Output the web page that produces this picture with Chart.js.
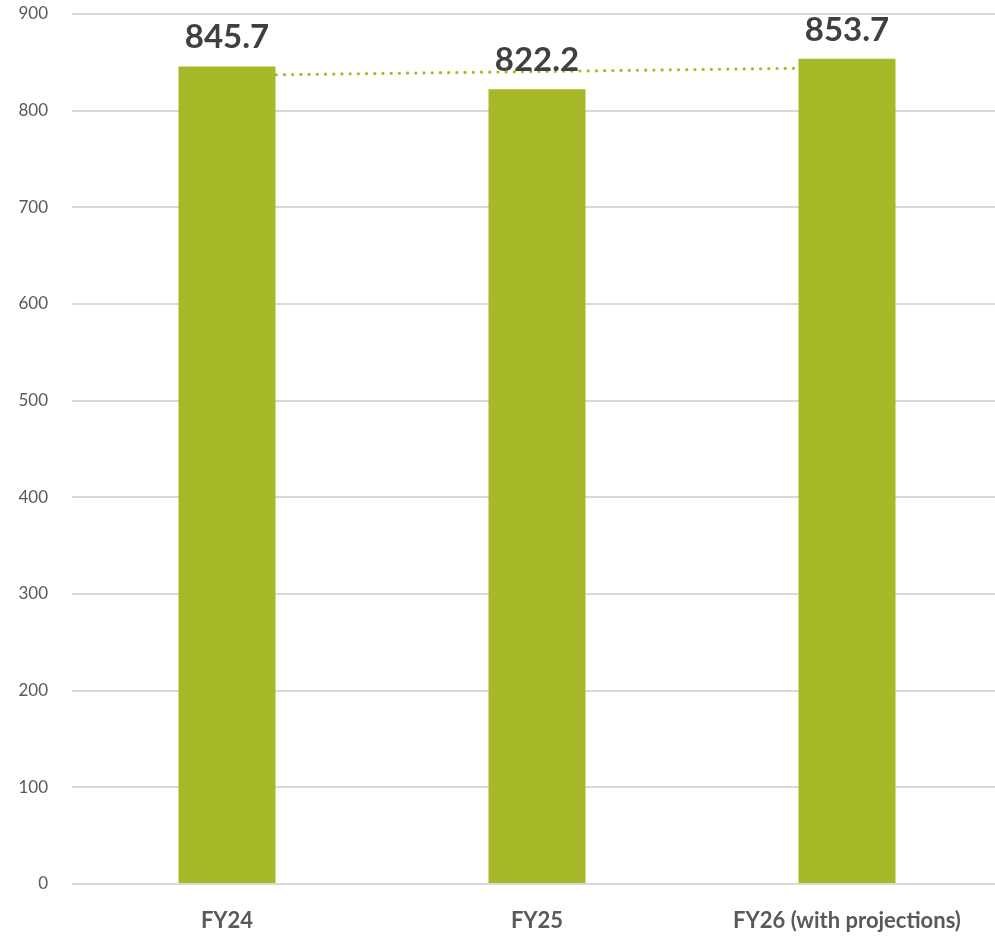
<!DOCTYPE html>
<html>
<head>
<meta charset="utf-8">
<script src="https://cdn.jsdelivr.net/npm/chart.js@4.4.1/dist/chart.umd.min.js"></script>
<style>
  html, body { margin: 0; padding: 0; background: #fff; overflow: hidden; }
  #wrap { width: 1002px; height: 939px; }
</style>
</head>
<body>
<div id="wrap"><canvas id="myChart" width="1002" height="939"></canvas></div>
<script>
'use strict'

let years = ['FY24', 'FY25', 'FY26 (with projections)'];
let totals = [845.7, 822.2, 853.7];
// linear trend line
let trend = [836.5, 840.5, 844.5];
let yTicks = [0, 100, 200, 300, 400, 500, 600, 700, 800, 900];

let green = '#A7B829';

// values written above the bars
let barLabels = {
  id: 'barLabels',
  afterDatasetsDraw(chart) {
    let ctx = chart.ctx;
    let meta = chart.getDatasetMeta(0);
    ctx.save();
    ctx.font = 'bold 33px Lato';
    ctx.fillStyle = '#404040';
    ctx.textAlign = 'center';
    ctx.textBaseline = 'alphabetic';
    meta.data.forEach(function (bar, i) {
      ctx.fillText(totals[i].toFixed(1), bar.x, bar.y - 18);
    });
    ctx.restore();
  }
};

let ctx = document.getElementById('myChart').getContext('2d');
let chart = new Chart(ctx, {
  type: 'bar',
  data: {
    labels: years,
    datasets: [{
      type: 'bar',
      data: totals,
      backgroundColor: green,
      barPercentage: 0.313,
      categoryPercentage: 1,
      order: 1
    },
    {
      type: 'line',
      data: trend,
      borderColor: green,
      borderWidth: 3.2,
      borderDash: [0.01, 8.2],
      borderCapStyle: 'round',
      pointRadius: 0,
      fill: false,
      order: 2
    }]
  },
  options: {
    responsive: false,
    animation: false,
    layout: { padding: { top: 14, right: 0, left: 0, bottom: 0 } },
    plugins: {
      legend: { display: false },
      tooltip: { enabled: false }
    },
    scales: {
      x: {
        grid: { display: false, drawTicks: false },
        border: { display: false },
        ticks: {
          color: '#595959',
          font: { family: 'Lato', size: 22, weight: 'bold' },
          padding: 24,
          maxRotation: 0
        },
        afterFit(scale) {
          scale.height = 55;
          scale.paddingTop = 0;
          scale.paddingBottom = 0;
        }
      },
      y: {
        min: 0,
        max: 900,
        afterBuildTicks(scale) {
          scale.ticks = yTicks.map(function (v) { return { value: v }; });
        },
        grid: { color: '#D9D9D9', lineWidth: 2, drawTicks: false },
        border: { display: false },
        ticks: {
          color: '#595959',
          font: { family: 'Lato', size: 17 },
          padding: 24
        },
        afterFit(scale) {
          scale.width = 72;
          scale.paddingTop = 0;
          scale.paddingBottom = 0;
        }
      }
    }
  },
  plugins: [barLabels]
});
</script>
</body>
</html>
